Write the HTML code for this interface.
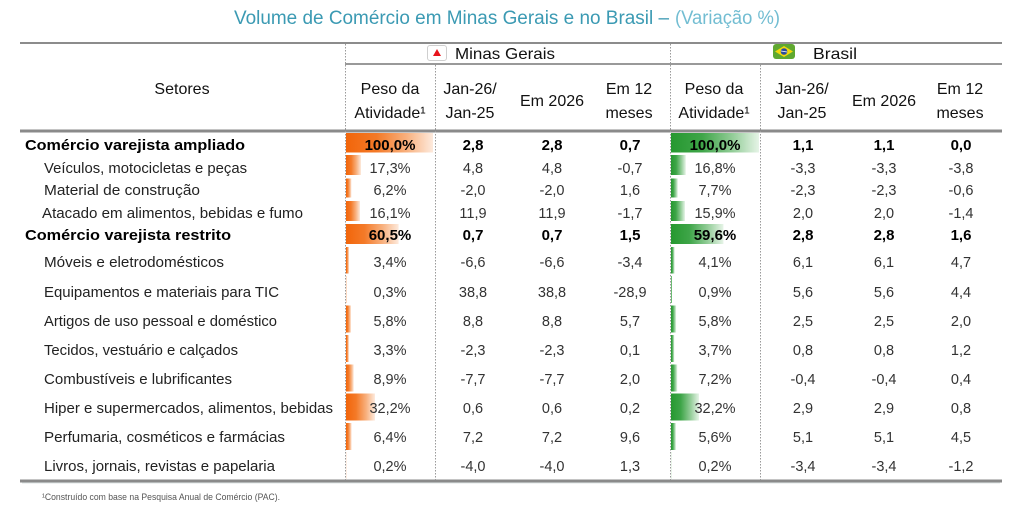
<!DOCTYPE html>
<html>
<head>
<meta charset="utf-8">
<style>
html,body{margin:0;padding:0;background:#fff;}
svg{display:block;}
text{font-family:"Liberation Sans",Arial,sans-serif;}
</style>
</head>
<body>
<svg width="1024" height="527" viewBox="0 0 1024 527" xmlns="http://www.w3.org/2000/svg">
<defs>
<linearGradient id="og" x1="0" y1="0" x2="1" y2="0">
<stop offset="0" stop-color="#f2650a"/>
<stop offset="0.35" stop-color="#f47a28"/>
<stop offset="0.7" stop-color="#f8b17f"/>
<stop offset="1" stop-color="#fdeadd"/>
</linearGradient>
<linearGradient id="gg" x1="0" y1="0" x2="1" y2="0">
<stop offset="0" stop-color="#269830"/>
<stop offset="0.35" stop-color="#3ea548"/>
<stop offset="0.7" stop-color="#93cd98"/>
<stop offset="1" stop-color="#e6f4e7"/>
</linearGradient>
</defs>
<rect width="1024" height="527" fill="#fff"/>

<!-- Title -->
<text x="234" y="24" font-size="19" fill="#3b9ab3" textLength="435" lengthAdjust="spacingAndGlyphs">Volume de Comércio em Minas Gerais e no Brasil –</text>
<text x="675" y="24" font-size="19" fill="#72bdd2" textLength="105" lengthAdjust="spacingAndGlyphs">(Variação %)</text>

<!-- Bars MG -->
<g fill="url(#og)">
<rect x="346" y="133" width="87" height="19.5"/>
<rect x="346" y="155" width="15" height="20"/>
<rect x="346" y="178.5" width="5.4" height="19"/>
<rect x="346" y="201" width="14" height="20"/>
<rect x="346" y="224" width="52.6" height="20"/>
<rect x="346" y="247" width="3" height="26.5"/>
<rect x="346" y="276" width="0.4" height="27"/>
<rect x="346" y="305.5" width="5" height="27"/>
<rect x="346" y="335" width="2.9" height="27"/>
<rect x="346" y="364.5" width="7.7" height="27"/>
<rect x="346" y="393.5" width="29" height="27"/>
<rect x="346" y="423" width="5.6" height="27"/>
<rect x="346" y="452" width="0.3" height="27"/>
</g>
<!-- Bars BR -->
<g fill="url(#gg)">
<rect x="671" y="133" width="88" height="19.5"/>
<rect x="671" y="155" width="14.8" height="20"/>
<rect x="671" y="178.5" width="6.8" height="19"/>
<rect x="671" y="201" width="14" height="20"/>
<rect x="671" y="224" width="52.4" height="20"/>
<rect x="671" y="247" width="3.6" height="26.5"/>
<rect x="671" y="276" width="1" height="27"/>
<rect x="671" y="305.5" width="5.1" height="27"/>
<rect x="671" y="335" width="3.3" height="27"/>
<rect x="671" y="364.5" width="6.3" height="27"/>
<rect x="671" y="393.5" width="28" height="27"/>
<rect x="671" y="423" width="4.9" height="27"/>
<rect x="671" y="452" width="0.3" height="27"/>
</g>

<!-- Rules -->
<line x1="20" y1="43" x2="1002" y2="43" stroke="#8c8c8c" stroke-width="2"/>
<line x1="345" y1="64" x2="1002" y2="64" stroke="#999" stroke-width="2"/>
<line x1="20" y1="131" x2="1002" y2="131" stroke="#8a8a8a" stroke-width="3"/>
<line x1="20" y1="481" x2="1002" y2="481" stroke="#8a8a8a" stroke-width="3"/>
<line x1="22" y1="483" x2="1000" y2="483" stroke="#dfe5e5" stroke-width="1"/>

<!-- Dotted verticals -->
<g stroke="#9a9a9a" stroke-width="1" stroke-dasharray="1.5,1.5">
<line x1="345.5" y1="44" x2="345.5" y2="480"/>
<line x1="435.5" y1="65" x2="435.5" y2="480"/>
<line x1="670.5" y1="44" x2="670.5" y2="480"/>
<line x1="760.5" y1="65" x2="760.5" y2="480"/>
</g>

<!-- Group headers -->
<rect x="427.5" y="45.5" width="19" height="15" rx="2.5" fill="#fff" stroke="#cfcfcf"/>
<polygon points="437,49 441,56 433,56" fill="#e8141b"/>
<text x="455" y="59" font-size="16" fill="#111" textLength="100" lengthAdjust="spacingAndGlyphs">Minas Gerais</text>

<rect x="773" y="44" width="22" height="15" rx="3" fill="#5fa830"/>
<polygon points="784,46 793,51.5 784,57 775,51.5" fill="#f2d80c"/>
<circle cx="784" cy="51.5" r="3.3" fill="#2b4b9b"/>
<line x1="781" y1="51" x2="787" y2="52" stroke="#fff" stroke-width="0.7"/>
<text x="813" y="59" font-size="16" fill="#111" textLength="44" lengthAdjust="spacingAndGlyphs">Brasil</text>

<!-- Column headers -->
<g font-size="16" fill="#111" text-anchor="middle">
<text x="182" y="94">Setores</text>
<text x="390" y="94">Peso da</text>
<text x="390" y="118">Atividade¹</text>
<text x="470" y="94">Jan-26/</text>
<text x="470" y="118">Jan-25</text>
<text x="552" y="106">Em 2026</text>
<text x="629" y="94">Em 12</text>
<text x="629" y="118">meses</text>
<text x="714" y="94">Peso da</text>
<text x="714" y="118">Atividade¹</text>
<text x="802" y="94">Jan-26/</text>
<text x="802" y="118">Jan-25</text>
<text x="884" y="106">Em 2026</text>
<text x="960" y="94">Em 12</text>
<text x="960" y="118">meses</text>
</g>

<!-- Row labels -->
<g font-size="15" fill="#222">
<text x="25" y="150" font-weight="bold" fill="#000" textLength="220" lengthAdjust="spacingAndGlyphs">Comércio varejista ampliado</text>
<text x="44" y="173" textLength="203" lengthAdjust="spacingAndGlyphs">Veículos, motocicletas e peças</text>
<text x="44" y="195" textLength="156" lengthAdjust="spacingAndGlyphs">Material de construção</text>
<text x="42" y="218" textLength="261" lengthAdjust="spacingAndGlyphs">Atacado em alimentos, bebidas e fumo</text>
<text x="25" y="240" font-weight="bold" fill="#000" textLength="206" lengthAdjust="spacingAndGlyphs">Comércio varejista restrito</text>
<text x="44" y="267" textLength="180" lengthAdjust="spacingAndGlyphs">Móveis e eletrodomésticos</text>
<text x="44" y="297" textLength="235" lengthAdjust="spacingAndGlyphs">Equipamentos e materiais para TIC</text>
<text x="44" y="326" textLength="233" lengthAdjust="spacingAndGlyphs">Artigos de uso pessoal e doméstico</text>
<text x="44" y="355" textLength="194" lengthAdjust="spacingAndGlyphs">Tecidos, vestuário e calçados</text>
<text x="44" y="384" textLength="188" lengthAdjust="spacingAndGlyphs">Combustíveis e lubrificantes</text>
<text x="44" y="413" textLength="289" lengthAdjust="spacingAndGlyphs">Hiper e supermercados, alimentos, bebidas</text>
<text x="44" y="442" textLength="241" lengthAdjust="spacingAndGlyphs">Perfumaria, cosméticos e farmácias</text>
<text x="44" y="471" textLength="231" lengthAdjust="spacingAndGlyphs">Livros, jornais, revistas e papelaria</text>
</g>

<!-- Bold rows values -->
<g font-size="15" font-weight="bold" fill="#000" text-anchor="middle">
<text x="390" y="150">100,0%</text><text x="473" y="150">2,8</text><text x="552" y="150">2,8</text><text x="630" y="150">0,7</text>
<text x="715" y="150">100,0%</text><text x="803" y="150">1,1</text><text x="884" y="150">1,1</text><text x="961" y="150">0,0</text>
<text x="390" y="240">60,5%</text><text x="473" y="240">0,7</text><text x="552" y="240">0,7</text><text x="630" y="240">1,5</text>
<text x="715" y="240">59,6%</text><text x="803" y="240">2,8</text><text x="884" y="240">2,8</text><text x="961" y="240">1,6</text>
</g>

<!-- Regular values -->
<g font-size="14.5" fill="#333" text-anchor="middle">
<text x="390" y="173">17,3%</text><text x="473" y="173">4,8</text><text x="552" y="173">4,8</text><text x="630" y="173">-0,7</text>
<text x="715" y="173">16,8%</text><text x="803" y="173">-3,3</text><text x="884" y="173">-3,3</text><text x="961" y="173">-3,8</text>

<text x="390" y="195">6,2%</text><text x="473" y="195">-2,0</text><text x="552" y="195">-2,0</text><text x="630" y="195">1,6</text>
<text x="715" y="195">7,7%</text><text x="803" y="195">-2,3</text><text x="884" y="195">-2,3</text><text x="961" y="195">-0,6</text>

<text x="390" y="218">16,1%</text><text x="473" y="218">11,9</text><text x="552" y="218">11,9</text><text x="630" y="218">-1,7</text>
<text x="715" y="218">15,9%</text><text x="803" y="218">2,0</text><text x="884" y="218">2,0</text><text x="961" y="218">-1,4</text>

<text x="390" y="267">3,4%</text><text x="473" y="267">-6,6</text><text x="552" y="267">-6,6</text><text x="630" y="267">-3,4</text>
<text x="715" y="267">4,1%</text><text x="803" y="267">6,1</text><text x="884" y="267">6,1</text><text x="961" y="267">4,7</text>

<text x="390" y="297">0,3%</text><text x="473" y="297">38,8</text><text x="552" y="297">38,8</text><text x="630" y="297">-28,9</text>
<text x="715" y="297">0,9%</text><text x="803" y="297">5,6</text><text x="884" y="297">5,6</text><text x="961" y="297">4,4</text>

<text x="390" y="326">5,8%</text><text x="473" y="326">8,8</text><text x="552" y="326">8,8</text><text x="630" y="326">5,7</text>
<text x="715" y="326">5,8%</text><text x="803" y="326">2,5</text><text x="884" y="326">2,5</text><text x="961" y="326">2,0</text>

<text x="390" y="355">3,3%</text><text x="473" y="355">-2,3</text><text x="552" y="355">-2,3</text><text x="630" y="355">0,1</text>
<text x="715" y="355">3,7%</text><text x="803" y="355">0,8</text><text x="884" y="355">0,8</text><text x="961" y="355">1,2</text>

<text x="390" y="384">8,9%</text><text x="473" y="384">-7,7</text><text x="552" y="384">-7,7</text><text x="630" y="384">2,0</text>
<text x="715" y="384">7,2%</text><text x="803" y="384">-0,4</text><text x="884" y="384">-0,4</text><text x="961" y="384">0,4</text>

<text x="390" y="413">32,2%</text><text x="473" y="413">0,6</text><text x="552" y="413">0,6</text><text x="630" y="413">0,2</text>
<text x="715" y="413">32,2%</text><text x="803" y="413">2,9</text><text x="884" y="413">2,9</text><text x="961" y="413">0,8</text>

<text x="390" y="442">6,4%</text><text x="473" y="442">7,2</text><text x="552" y="442">7,2</text><text x="630" y="442">9,6</text>
<text x="715" y="442">5,6%</text><text x="803" y="442">5,1</text><text x="884" y="442">5,1</text><text x="961" y="442">4,5</text>

<text x="390" y="471">0,2%</text><text x="473" y="471">-4,0</text><text x="552" y="471">-4,0</text><text x="630" y="471">1,3</text>
<text x="715" y="471">0,2%</text><text x="803" y="471">-3,4</text><text x="884" y="471">-3,4</text><text x="961" y="471">-1,2</text>
</g>

<!-- Footnote -->
<text x="42" y="500" font-size="9.5" fill="#555" textLength="238" lengthAdjust="spacingAndGlyphs">¹Construído com base na Pesquisa Anual de Comércio (PAC).</text>
</svg>
</body>
</html>
